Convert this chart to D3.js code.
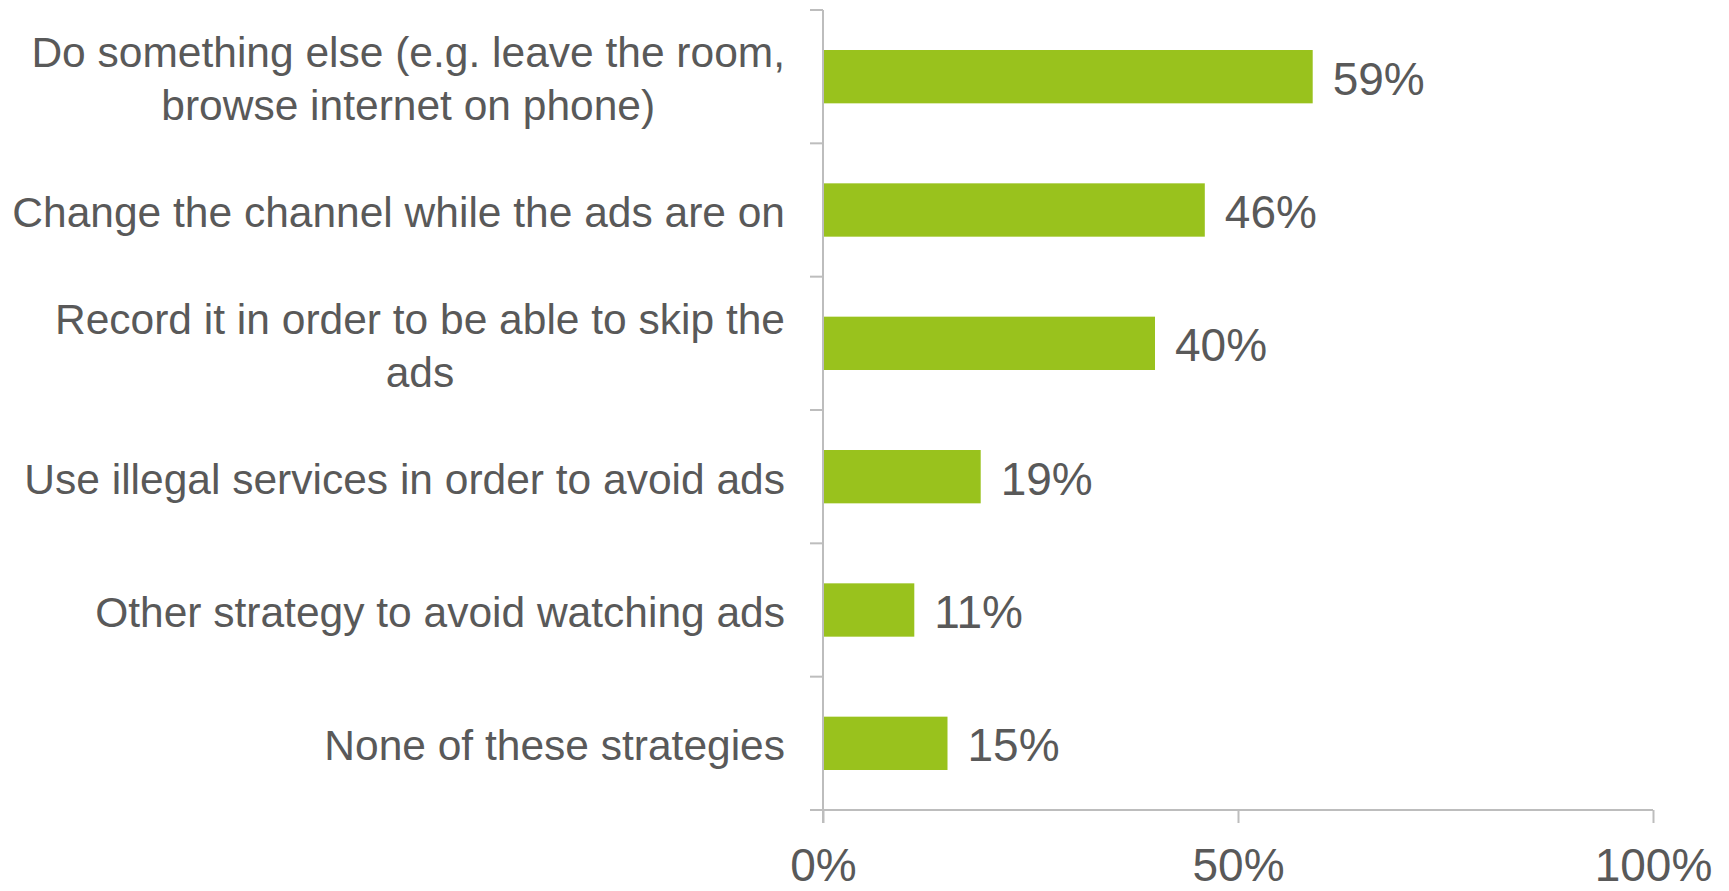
<!DOCTYPE html>
<html>
<head>
<meta charset="utf-8">
<script src="https://cdn.jsdelivr.net/npm/d3@7"></script>
<style>
  html, body { margin: 0; padding: 0; background: #ffffff; }
  svg { display: block; }
  text { font-family: "Liberation Sans", Arial, Helvetica, sans-serif; fill: #595959; }
</style>
</head>
<body>
<svg id="chart" width="1729" height="891"></svg>
<script>
// Survey answers: how viewers avoid TV advertising
const categories = [
  ["Do something else (e.g. leave the room,", "browse internet on phone)"],
  ["Change the channel while the ads are on"],
  ["Record it in order to be able to skip the", "ads"],
  ["Use illegal services in order to avoid ads"],
  ["Other strategy to avoid watching ads"],
  ["None of these strategies"]
];
const values = [59, 46, 40, 19, 11, 15];
const xTicks = [0, 50, 100];

const W = 1729, H = 891;
const plot = { left: 823, right: 1653, top: 10, bottom: 810 };
const barColor = "#99c21d";
const axisColor = "#bdbdbd";

const svg = d3.select("#chart");

const keys = categories.map((c, i) => i);

const x = d3.scaleLinear().domain([0, 100]).range([plot.left, plot.right]);
const y = d3.scaleBand().domain(keys).range([plot.top, plot.bottom])
  .paddingInner(0.6).paddingOuter(0.3);

// Bars
svg.append("g").selectAll("rect")
  .data(values)
  .join("rect")
  .attr("x", x(0))
  .attr("y", (d, i) => y(i))
  .attr("width", d => x(d) - x(0))
  .attr("height", y.bandwidth())
  .attr("fill", barColor);

// Value labels
svg.append("g").selectAll("text")
  .data(values)
  .join("text")
  .attr("x", d => x(d) + 20)
  .attr("y", (d, i) => y(i) + y.bandwidth() / 2 + 18)
  .attr("font-size", 46)
  .text(d => d + "%");

// Category axis (vertical line with ticks at band boundaries)
const step = y.step();
const boundaries = keys.map(i => y(i) - step * y.paddingInner() / 2).concat([plot.bottom]);
const yAxis = svg.append("g");
yAxis.append("line")
  .attr("x1", plot.left).attr("x2", plot.left)
  .attr("y1", plot.top).attr("y2", plot.bottom + 13)
  .attr("stroke", axisColor).attr("stroke-width", 2);
yAxis.selectAll("line.tick")
  .data(boundaries)
  .join("line")
  .attr("class", "tick")
  .attr("x1", plot.left - 13).attr("x2", plot.left)
  .attr("y1", d => d).attr("y2", d => d)
  .attr("stroke", axisColor).attr("stroke-width", 2);

// Category labels: each block is right-aligned, its lines centred within the block
const labelRight = 785;
const lineH = 53;
const labels = svg.append("g");
categories.forEach((lines, i) => {
  const cy = y(i) + y.bandwidth() / 2;
  const g = labels.append("g");
  const texts = lines.map((line, j) =>
    g.append("text")
      .attr("font-size", 42.5)
      .attr("text-anchor", "middle")
      .attr("y", cy + 17 + (j - (lines.length - 1) / 2) * lineH)
      .text(line)
  );
  const maxW = d3.max(texts, t => t.node().getComputedTextLength());
  texts.forEach(t => t.attr("x", labelRight - maxW / 2));
});

// Value axis at the bottom
const xAxis = d3.axisBottom(x)
  .tickValues(xTicks)
  .tickFormat(d => d + "%")
  .tickSize(13)
  .tickPadding(30)
  .tickSizeOuter(0);

const gx = svg.append("g")
  .attr("transform", `translate(0,${plot.bottom})`)
  .call(xAxis);
gx.select(".domain").remove();
gx.insert("line", ":first-child")
  .attr("x1", plot.left - 13).attr("x2", plot.right)
  .attr("y1", 0).attr("y2", 0)
  .attr("stroke", axisColor).attr("stroke-width", 2);
gx.selectAll(".tick line").attr("stroke", axisColor).attr("stroke-width", 2);
gx.selectAll(".tick text")
  .attr("font-size", 46)
  .attr("font-family", "'Liberation Sans', Arial, Helvetica, sans-serif")
  .attr("fill", "#595959")
  .attr("dy", null)
  .attr("y", 71);
</script>
</body>
</html>
